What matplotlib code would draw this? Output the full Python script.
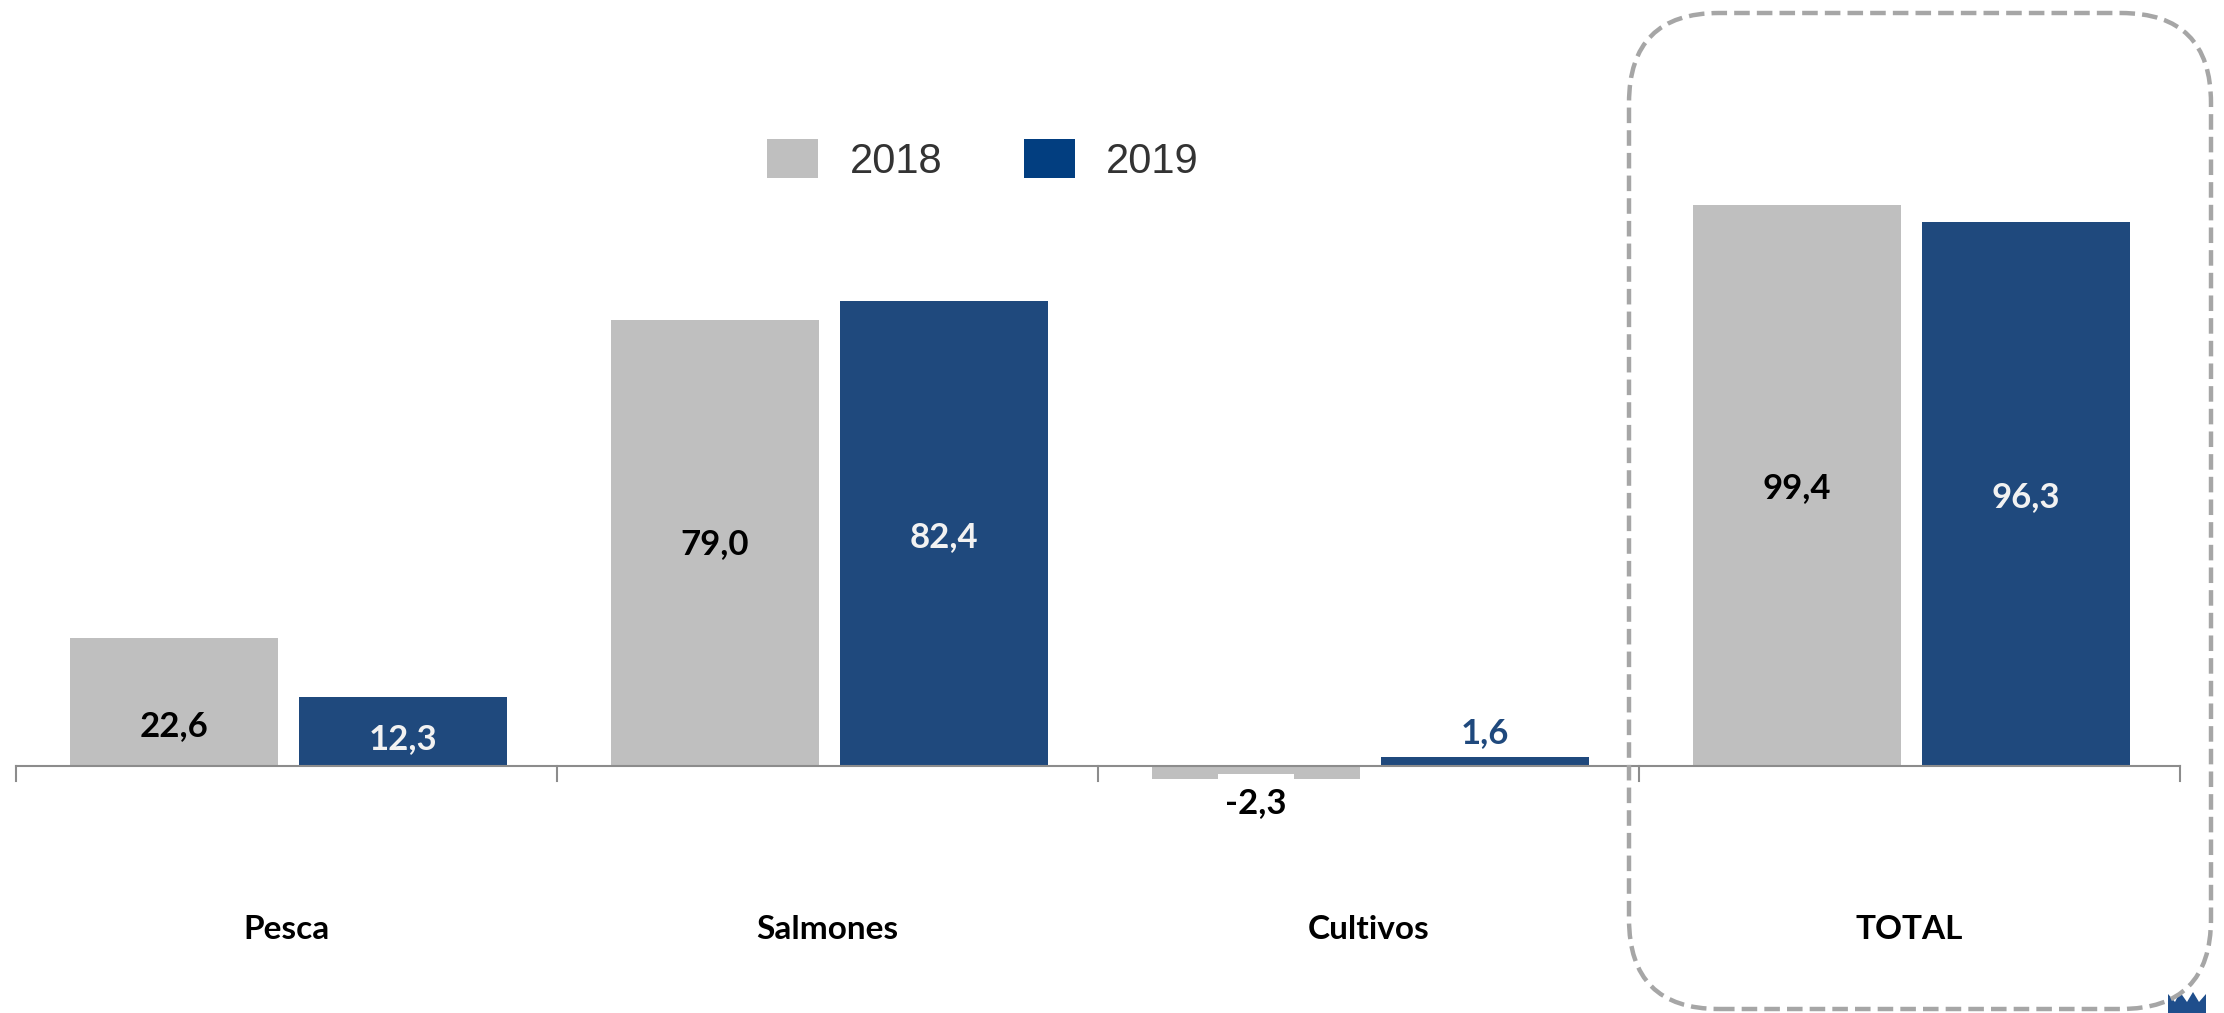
import matplotlib
matplotlib.use('Agg')
import matplotlib.pyplot as plt
import numpy as np
from matplotlib.patches import FancyBboxPatch, Patch, Rectangle, Polygon
from matplotlib.transforms import IdentityTransform

# datos
categorias = ['Pesca', 'Salmones', 'Cultivos', 'TOTAL']
valores_2018 = [22.6, 79.0, -2.3, 99.4]
valores_2019 = [12.3, 82.4, 1.6, 96.3]
anios = ['2018', '2019']

# posicion vertical de las etiquetas (unidades de datos)
etiq_y_2018 = [7.1, 39.3, -6.55, 49.2]
etiq_y_2019 = [4.8, 40.6, 5.85, 47.65]

GRIS = '#BFBFBF'
AZUL = '#1F497D'
AZUL_LEY = '#023E80'

W, H = 2224, 1013
fig = plt.figure(figsize=(W / 100, H / 100), dpi=100)
ax = fig.add_axes([0, 0, 1, 1])
ax.set_xlim(-0.5296, 3.5813)
ax.set_ylim(-43.76, 135.7)
ax.axis('off')

x = np.arange(len(categorias))
ancho = 0.3845
desp_g = 0.208
desp_a = 0.215
ax.bar(x - desp_g, valores_2018, ancho, color=GRIS, zorder=2)
ax.bar(x + desp_a, valores_2019, ancho, color=AZUL, zorder=2)

# eje horizontal con marcas
ax.plot([-0.5, len(categorias) - 0.5], [0, 0], color='#8C8C8C', lw=1.5, zorder=3)
for t in np.arange(-0.5, len(categorias), 1.0):
    ax.plot([t, t], [0, -2.6], color='#8C8C8C', lw=1.5, zorder=3)

fuente = 'Lato'
# etiquetas de valores
for i, (v, yy) in enumerate(zip(valores_2018, etiq_y_2018)):
    txt = f'{v:.1f}'.replace('.', ',')
    if v < 0:
        # fondo blanco de la etiqueta, tapa parte de la barra
        ax.add_patch(Rectangle((x[i] - desp_g - 0.07, yy - 3.0), 0.14, -yy - 1.4 + 3.0,
                               facecolor='white', edgecolor='none', zorder=3))
    ax.text(x[i] - desp_g, yy, txt, ha='center', va='center', fontsize=25,
            fontweight='bold', family=fuente, color='black', zorder=4)
for i, (v, yy) in enumerate(zip(valores_2019, etiq_y_2019)):
    txt = f'{v:.1f}'.replace('.', ',')
    col = '#F2F2F2' if v > 5 else AZUL
    ax.text(x[i] + desp_a, yy, txt, ha='center', va='center', fontsize=25,
            fontweight='bold', family=fuente, color=col, zorder=4)

# categorias
for i, c in enumerate(categorias):
    ax.text(x[i], -28.9, c, ha='center', va='center', fontsize=24,
            fontweight='bold', family=fuente, color='black')

# leyenda
handles = [Patch(facecolor=GRIS, edgecolor='none'), Patch(facecolor=AZUL_LEY, edgecolor='none')]
leg = fig.legend(handles, anios, loc='center', bbox_to_anchor=(0.442, 0.842), ncol=2,
                 frameon=False, prop={'family': 'Liberation Sans', 'size': 30},
                 handlelength=1.23, handleheight=1.08, handletextpad=0.75, columnspacing=1.95)
for t in leg.get_texts():
    t.set_color('#333333')

# recuadro punteado redondeado (TOTAL)
caja = FancyBboxPatch((1629, H - 1009), 2211 - 1629, 1009 - 13,
                      boxstyle='round,pad=0,rounding_size=90',
                      transform=IdentityTransform(), facecolor='none',
                      edgecolor='#A6A6A6', lw=3.2, linestyle=(0, (3.5, 1.6)), zorder=5)
fig.add_artist(caja)

# logo (corona) recortado en la esquina
px = [(2168, 1013), (2168, 994), (2175, 1002), (2180, 992), (2187, 1002),
      (2193, 992), (2199, 1002), (2206, 994), (2206, 1013)]
corona = Polygon([(a, H - b) for a, b in px], closed=True, transform=IdentityTransform(),
                 facecolor='#1F4E8C', edgecolor='none')
fig.add_artist(corona)

fig.savefig('out.png', dpi=100, facecolor='white')
